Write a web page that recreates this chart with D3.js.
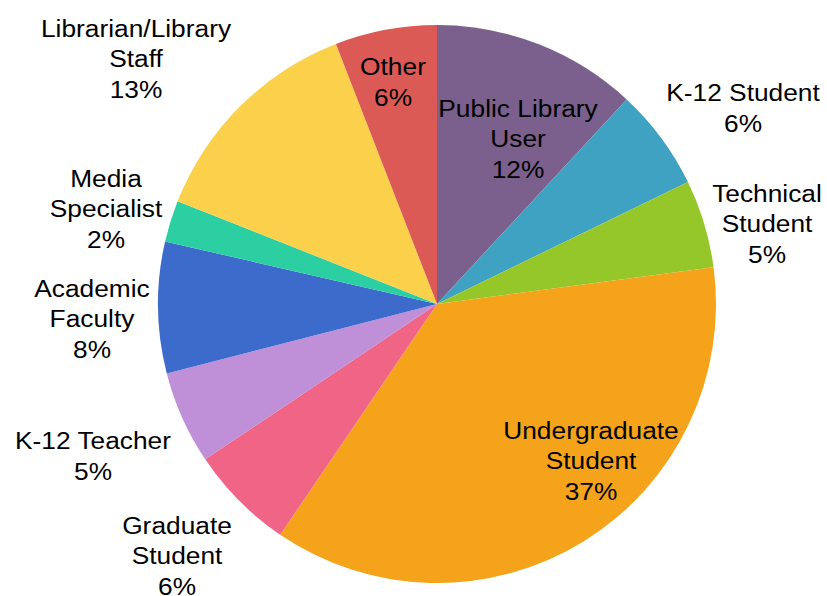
<!DOCTYPE html>
<html>
<head>
<meta charset="utf-8">
<script src="https://cdn.jsdelivr.net/npm/d3@7"></script>
<style>
  body { margin: 0; background: #fff; }
  svg { display: block; }
  text { font-family: "Liberation Sans", Arial, sans-serif; fill: #000; }
</style>
</head>
<body>
<div id="chart"></div>
<script>
// Respondent roles, clockwise from 12 o'clock
const categories = [
    'Public Library User', 'K-12 Student', 'Technical Student', 'Undergraduate Student',
    'Graduate Student', 'K-12 Teacher', 'Academic Faculty', 'Media Specialist',
    'Librarian/Library Staff', 'Other'
];
const shares = [11.9, 5.9, 5.1, 36.6, 6.1, 5.4, 7.6, 2.4, 13.1, 5.9];
// How each label is broken into lines
const labelLines = [
    ['Public Library', 'User'], ['K-12 Student'], ['Technical', 'Student'], ['Undergraduate', 'Student'],
    ['Graduate', 'Student'], ['K-12 Teacher'], ['Academic', 'Faculty'], ['Media', 'Specialist'],
    ['Librarian/Library', 'Staff'], ['Other']
];
const colors = ['#7b5f8d', '#3fa2c2', '#96c72a', '#f4a31b', '#f06486',
                '#bf8fd7', '#3d6bcb', '#2ccfa2', '#fbd14b', '#dc5a55'];

// label block centres, offset from the pie centre (layout only)
const labelOffsets = [
    [81, -165], [306, -196], [330, -80], [154, 157],
    [-260, 252], [-344, 152], [-345, 15], [-331, -95],
    [-301, -245], [-44, -222]
];

const W = 827, H = 596;
const cx = 437, cy = 304, radius = 279;
const fs = 23.5, lh = 30.5, stretch = 1.12;

const svg = d3.select('#chart').append('svg')
    .attr('width', W).attr('height', H);

const g = svg.append('g').attr('transform', `translate(${cx},${cy})`);

const data = categories.map((name, i) => ({name, value: shares[i], i}));

const pie = d3.pie().value(d => d.value).sort(null);
const arc = d3.arc().innerRadius(0).outerRadius(radius);

g.selectAll('path.slice')
    .data(pie(data))
    .join('path')
    .attr('class', 'slice')
    .attr('d', arc)
    .attr('fill', d => colors[d.data.i]);

// Labels: name lines + rounded percent
const labels = g.selectAll('g.label')
    .data(data)
    .join('g')
    .attr('class', 'label')
    .attr('transform', d => `translate(${labelOffsets[d.i][0]},${labelOffsets[d.i][1]}) scale(${stretch},1)`);

labels.each(function(d){
    let lines = labelLines[d.i].concat([Math.round(d.value) + '%']);
    let n = lines.length;
    d3.select(this).selectAll('text')
        .data(lines)
        .join('text')
        .attr('text-anchor', 'middle')
        .attr('font-size', fs)
        .attr('y', (t, k) => (k - (n - 1) / 2) * lh + fs * 0.716 / 2)
        .text(t => t);
});
</script>
</body>
</html>
